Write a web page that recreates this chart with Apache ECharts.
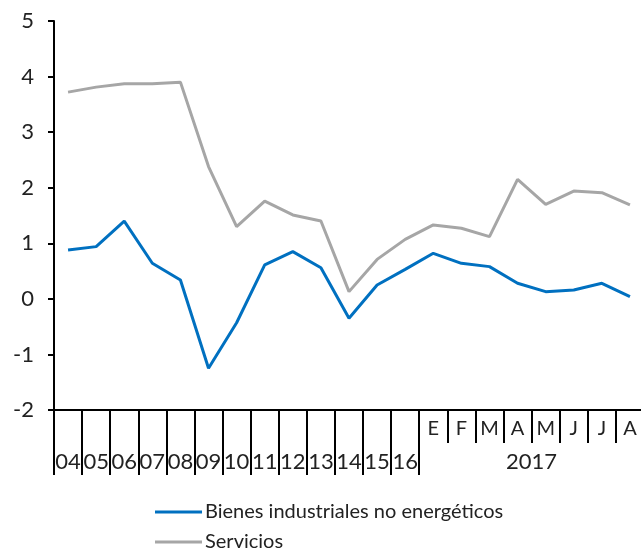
<!DOCTYPE html>
<html>
<head>
<meta charset="utf-8">
<script src="https://cdn.jsdelivr.net/npm/echarts@6/dist/echarts.min.js"></script>
<style>
    html, body { margin: 0; padding: 0; background: #fff; }
    #chart { width: 641px; height: 555px; }
</style>
</head>
<body>
<div id="chart"></div>
<script>
// Categories: years 2004-2016, then months of 2017
const categories = ['04', '05', '06', '07', '08', '09', '10', '11', '12', '13', '14', '15', '16',
    'E', 'F', 'M', 'A', 'M', 'J', 'J', 'A'];
const yearCount = 13;
const monthYear = '2017';

const bienes = [0.88, 0.94, 1.40, 0.64, 0.34, -1.25, -0.43, 0.61, 0.85, 0.56, -0.35, 0.25, 0.53,
    0.82, 0.64, 0.58, 0.28, 0.13, 0.16, 0.28, 0.04];
const servicios = [3.72, 3.81, 3.87, 3.87, 3.90, 2.38, 1.30, 1.76, 1.51, 1.40, 0.13, 0.71, 1.07,
    1.33, 1.27, 1.12, 2.15, 1.70, 1.94, 1.91, 1.69];

const seriesNames = ['Bienes industriales no energéticos', 'Servicios'];
const seriesColors = ['#0070C0', '#A6A6A6'];

const fontFamily = 'Lato';
const textColor = '#222';

function legendItem(name, top) {
    return {
        orient: 'horizontal',
        left: 155,
        top: top,
        padding: 0,
        itemWidth: 47,
        itemHeight: 3,
        icon: 'rect',
        textStyle: { fontSize: 20, color: textColor, padding: [0, 0, 0, -2] },
        data: [name]
    };
}

let chart = echarts.init(document.getElementById('chart'));
chart.setOption({
    animation: false,
    textStyle: { fontFamily: fontFamily },
    grid: { left: 54, top: 21, width: 590, height: 389, outerBoundsMode: 'none', containLabel: false },
    legend: [legendItem(seriesNames[0], 502), legendItem(seriesNames[1], 532)],
    xAxis: [{
        type: 'category',
        data: categories,
        position: 'bottom',
        axisLine: { onZero: false, lineStyle: { color: '#000', width: 2 } },
        axisTick: { show: true, length: 33, lineStyle: { color: '#000', width: 2 } },
        axisLabel: {
            interval: 0,
            margin: 9,
            fontSize: 20,
            color: textColor,
            formatter: function(value, idx) {
                return idx >= yearCount ? value : '';
            }
        }
    }, {
        type: 'category',
        data: categories,
        position: 'bottom',
        axisLine: { show: false, onZero: false },
        axisTick: {
            show: true,
            length: 65,
            interval: function(idx) { return idx <= yearCount; },
            lineStyle: { color: '#000', width: 2 }
        },
        axisLabel: {
            interval: 0,
            margin: 41,
            fontSize: 22,
            color: textColor,
            formatter: function(value, idx) {
                if (idx < yearCount) return value;
                if (idx === yearCount + 3) return '{y|' + monthYear + '}';
                return '';
            },
            rich: {
                y: { fontSize: 22, color: textColor, fontFamily: fontFamily, padding: [0, 0, 0, 28] }
            }
        }
    }],
    yAxis: {
        type: 'value',
        min: -2,
        max: 5,
        interval: 1,
        splitLine: { show: false },
        axisLine: { show: true, lineStyle: { color: '#000', width: 2 } },
        axisTick: { show: true, length: 6, lineStyle: { color: '#000', width: 2 } },
        axisLabel: { fontSize: 22, color: textColor, margin: 20 }
    },
    series: [{
        name: seriesNames[0],
        type: 'line',
        data: bienes,
        symbol: 'none',
        lineStyle: { color: seriesColors[0], width: 3 },
        itemStyle: { color: seriesColors[0] }
    }, {
        name: seriesNames[1],
        type: 'line',
        data: servicios,
        symbol: 'none',
        lineStyle: { color: seriesColors[1], width: 3 },
        itemStyle: { color: seriesColors[1] }
    }]
});
</script>
</body>
</html>
